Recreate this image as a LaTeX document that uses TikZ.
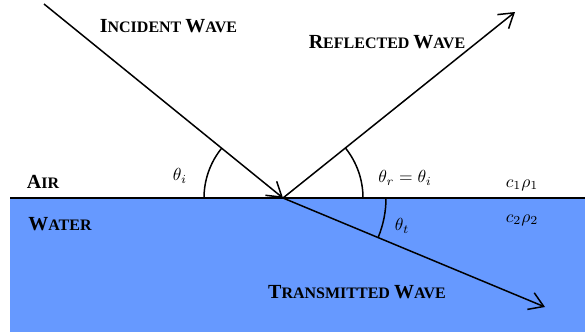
\documentclass[tikz,border=0pt]{standalone}
\usepackage{fontspec}
\setmainfont{Liberation Serif}
\usetikzlibrary{arrows.meta,calc}
\definecolor{waterblue}{RGB}{102,153,255}
\newcommand{\fakesc}[2]{{\fontsize{20}{20}\selectfont #1}{\fontsize{16}{16}\selectfont #2}}
\newcommand{\scspace}{{\fontsize{16}{16}\selectfont\ }}
\newcommand{\bigmath}[1]{\scalebox{1.75}{$#1$}}
\begin{document}
\begin{tikzpicture}[x=1pt,y=1pt,
  ray/.style={line width=1.5pt,-{Straight Barb[length=14pt,width=18pt,line width=1.5pt]}},
  anglearc/.style={line width=1.5pt},
  lbl/.style={font=\bfseries,inner sep=0pt},
  mlbl/.style={inner sep=0pt}]
\useasboundingbox (0,0) rectangle (585,333);
% water
\fill[waterblue] (10,1.5) rectangle (585,135);
% points
\coordinate (O) at (283,135);
\coordinate (A) at (44,329);
\coordinate (R) at (515,321);
\coordinate (T) at (545,26);
\coordinate (L) at (10,135);
\coordinate (E) at (585,135);
% interface
\draw[line width=1.5pt] (L) -- (E);
% rays
\draw[ray] (A) -- (O);
\draw[ray] (O) -- (R);
\draw[ray] (O) -- (T);
% angle arcs
\draw[anglearc] ($(O)+(-79,0)$) arc[start angle=180,end angle=140.9,radius=79];
\draw[anglearc] ($(O)+(80,0)$) arc[start angle=0,end angle=38.7,radius=80];
\draw[anglearc] ($(O)+(103,0)$) arc[start angle=0,end angle=-22.6,radius=103];
% labels
\node[lbl] (inc) at (168.5,307) {\fakesc{I}{NCIDENT}\scspace\fakesc{W}{AVE}};
\node[lbl] (refl) at (387,291) {\fakesc{R}{EFLECTED}\scspace\fakesc{W}{AVE}};
\node[lbl] (trans) at (357,41) {\fakesc{T}{RANSMITTED}\scspace\fakesc{W}{AVE}};
\node[lbl] (air) at (43,151) {\fakesc{A}{IR}};
\node[lbl] (water) at (60,109) {\fakesc{W}{ATER}};
\node[mlbl] (thi) at (180,157) {\bigmath{\theta_i}};
\node[mlbl] (thr) at (405,155) {\bigmath{\theta_r=\theta_i}};
\node[mlbl] (tht) at (402,107) {\bigmath{\theta_t}};
\node[mlbl] (m1) at (522,148) {\bigmath{c_1\rho_1}};
\node[mlbl] (m2) at (522,113) {\bigmath{c_2\rho_2}};
\end{tikzpicture}
\end{document}
